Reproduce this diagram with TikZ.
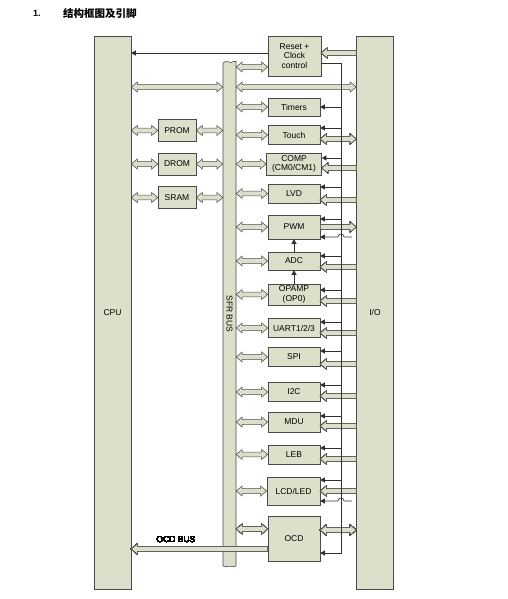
\documentclass[tikz,border=0pt]{standalone}
\usepackage{fontspec}
\setmainfont{Liberation Sans}
\newfontfamily\cjk{Noto Sans CJK SC}
\usetikzlibrary{arrows.meta,calc}
\definecolor{boxfill}{HTML}{DEDFCB}
\definecolor{edge}{HTML}{4A4A4A}
\definecolor{wire}{HTML}{303030}
\tikzset{
  blk/.style={draw=edge, fill=boxfill, line width=0.6pt, inner sep=0pt, align=center,
    font=\fontsize{8.5}{9.8}\selectfont},
  wireline/.style={draw=wire, line width=0.6pt},
  arr/.style={-{Triangle[length=4.5pt,width=5pt]}},
  hollow/.style={draw=edge, fill=boxfill, line width=0.55pt, line join=miter},
}
% single-headed block arrow from #1 to #2 (horizontal)
\newcommand\blkarrow[2]{%
  \draw[hollow] let \p1=(#1), \p2=(#2), \n1={sign(\x2-\x1)} in
      ({\x1},{\y1+2.3pt}) -- ({\x2-(\n1)*6pt},{\y1+2.3pt}) -- ({\x2-(\n1)*6pt},{\y1+5pt})
      -- ({\x2},{\y1}) -- ({\x2-(\n1)*6pt},{\y1-5pt}) -- ({\x2-(\n1)*6pt},{\y1-2.3pt})
      -- ({\x1},{\y1-2.3pt}) -- cycle;}
% double-headed block arrow between #1 and #2 (horizontal)
\newcommand\blkdarrow[2]{%
  \draw[hollow] let \p1=(#1), \p2=(#2), \n1={sign(\x2-\x1)} in
      ({\x1},{\y1}) -- ({\x1+(\n1)*6pt},{\y1+5pt}) -- ({\x1+(\n1)*6pt},{\y1+2.3pt}) -- ({\x2-(\n1)*6pt},{\y1+2.3pt})
      -- ({\x2-(\n1)*6pt},{\y1+5pt}) -- ({\x2},{\y1}) -- ({\x2-(\n1)*6pt},{\y1-5pt})
      -- ({\x2-(\n1)*6pt},{\y1-2.3pt}) -- ({\x1+(\n1)*6pt},{\y1-2.3pt}) -- ({\x1+(\n1)*6pt},{\y1-5pt}) -- cycle;}
\begin{document}
\begin{tikzpicture}[x=1pt,y=-1pt]
\useasboundingbox (0,0) rectangle (508,599);
% title
\node[anchor=west, inner sep=0pt, font=\bfseries\fontsize{9}{10}\selectfont] (num) at (33,13) {1.};
\node[anchor=west, inner sep=0pt, font=\cjk\bfseries\fontsize{10.5}{12}\selectfont] (title) at (63,13) {结构框图及引脚};
% big blocks
\node[blk, minimum width=37pt, minimum height=553pt] (cpu) at (112.5,312.5) {CPU};
\node[blk, minimum width=37pt, minimum height=553pt] (io) at (375,312.5) {I/O};
% SFR bus
\node[minimum width=13pt, minimum height=504pt, inner sep=0pt] (sfr) at (229.5,314) {};
\draw[draw=edge, fill=boxfill, line width=0.6pt]
  (223,566) -- (223,63) .. controls (226,60) and (229,62.5) .. (231,62.5)
  .. controls (233,62.5) and (234.5,60) .. (236,61.5) -- (236,566)
  .. controls (233,568) and (230,565) .. (227,566.5) .. controls (225,567.5) and (224,566) .. (223,566) -- cycle;
\node[rotate=-90, font=\fontsize{8.5}{10}\selectfont] (sfrlabel) at (229.5,314) {SFR BUS};
% memory
\node[blk, minimum width=38pt, minimum height=22pt] (prom) at (177,130.5) {PROM};
\node[blk, minimum width=38pt, minimum height=22pt] (drom) at (177,164) {DROM};
\node[blk, minimum width=38pt, minimum height=22pt] (sram) at (177,197.5) {SRAM};
% peripherals
\node[blk, minimum width=53pt, minimum height=40pt] (reset) at (294.5,56) {Reset +\\Clock\\control};
\node[blk, minimum width=52pt, minimum height=18pt] (timers) at (294,107) {Timers};
\node[blk, minimum width=52pt, minimum height=19pt] (touch) at (294,135) {Touch};
\node[blk, minimum width=55pt, minimum height=22pt] (comp) at (294,164) {COMP\\(CM0/CM1)};
\node[blk, minimum width=52pt, minimum height=19pt] (lvd) at (294,193.5) {LVD};
\node[blk, minimum width=52pt, minimum height=24pt] (pwm) at (294,227) {PWM};
\node[blk, minimum width=52pt, minimum height=18pt] (adc) at (294,261) {ADC};
\node[blk, minimum width=52pt, minimum height=21pt] (opamp) at (294,294.5) {OPAMP\\(OP0)};
\node[blk, minimum width=52pt, minimum height=19pt] (uart) at (294,328) {UART1/2/3};
\node[blk, minimum width=52pt, minimum height=19pt] (spi) at (294,357) {SPI};
\node[blk, minimum width=52pt, minimum height=19pt] (i2c) at (294,392) {I2C};
\node[blk, minimum width=52pt, minimum height=20pt] (mdu) at (294,422) {MDU};
\node[blk, minimum width=52pt, minimum height=19pt] (leb) at (294,454.5) {LEB};
\node[blk, minimum width=53pt, minimum height=28pt] (lcd) at (293.5,491) {LCD/LED};
\node[blk, minimum width=52pt, minimum height=45pt] (ocd) at (294,538.5) {OCD};
\coordinate (ctl) at (341,63);
\coordinate (hopA) at (352,237);
\coordinate (hopB) at (352,501);
% hollow arrows, left part
\blkdarrow{cpu.east |- 0,87}{sfr.west |- 0,87}
\foreach \mm in {prom,drom,sram}{
  \blkdarrow{cpu.east |- \mm.west}{\mm.west}
  \blkdarrow{\mm.east}{sfr.west |- \mm.east}
}
% hollow arrows, SFR to peripherals
\blkdarrow{sfr.east |- 0,67}{reset.west |- 0,67}
\blkdarrow{sfr.east |- 0,87}{io.west |- 0,87}
\foreach \nm in {timers,touch,comp,lvd,pwm,adc,opamp,uart,spi,i2c,mdu,leb,lcd}
  \blkdarrow{sfr.east |- \nm.west}{\nm.west}
\blkdarrow{sfr.east |- 0,529}{ocd.west |- 0,529}
% hollow arrows, I/O side
\blkarrow{io.west |- 0,53}{reset.east |- 0,53}
\blkdarrow{touch.east |- 0,139}{io.west |- 0,139}
\blkarrow{pwm.east |- 0,227}{io.west |- 0,227}
\foreach \nm/\yy in {comp/168,lvd/200,adc/267,opamp/301,uart/333,spi/364,i2c/396,mdu/426,leb/459,lcd/491}
  \blkarrow{io.west |- 0,\yy}{\nm.east |- 0,\yy}
\blkdarrow{ocd.east |- 0,530}{io.west |- 0,530}
% OCD bus
\blkarrow{ocd.west |- 0,549}{cpu.east |- 0,549}
\node[inner sep=0pt, font=\fontsize{8.5}{10}\selectfont] (ocdbus) at (176,540) {OCD BUS};
% thin control wires
\draw[wireline, arr] (reset.west |- 0,53) -- (cpu.east |- 0,53);
\draw[wireline, arr] (reset.east |- ctl) -- (ctl) -- (ctl |- 0,553) -- (ocd.east |- 0,553);
\foreach \nm/\yy in {timers/107,touch/128,comp/158,lvd/187,pwm/219,adc/256,opamp/290,uart/322,spi/351,i2c/385,mdu/416,leb/448,lcd/480}
  \draw[wireline, arr] (ctl |- 0,\yy) -- (\nm.east |- 0,\yy);
\draw[wireline, arr] (hopA) -- (344,237) .. controls (344,233) and (338,233) .. (338,237) -- (pwm.east |- hopA);
\draw[wireline, arr] (hopB) -- (344,501) .. controls (344,497) and (338,497) .. (338,501) -- (lcd.east |- hopB);
\draw[wireline, arr] (adc.north) -- (pwm.south);
\draw[wireline, arr] (opamp.north) -- (adc.south);
\end{tikzpicture}
\end{document}
